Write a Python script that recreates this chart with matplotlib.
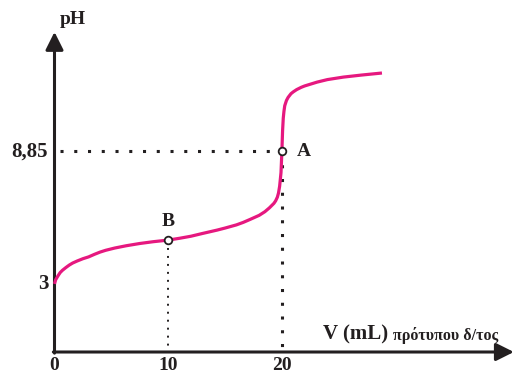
import matplotlib
matplotlib.use("Agg")
import matplotlib.pyplot as plt

# titration curve
volume = [0, 0.1, 0.3, 0.5, 0.7, 1.0, 1.3, 1.6, 2, 2.5, 3, 3.5, 4, 4.5,
          5.3, 6.3, 7.5, 8.7, 10, 11, 12, 13, 14.3, 15, 16, 16.6, 17.2,
          17.6, 18, 18.5, 18.9, 19.1, 19.3, 19.45, 19.6, 19.7, 19.8, 19.92,
          20, 20.03, 20.06, 20.12, 20.18, 20.25, 20.4, 20.55, 20.8, 21.0,
          21.3, 21.7, 22, 23.1, 24, 25.4, 27, 28.8]
ph = [3.0, 3.18, 3.35, 3.5, 3.6, 3.72, 3.83, 3.92, 4.01, 4.11, 4.19, 4.3,
      4.4, 4.48, 4.58, 4.68, 4.78, 4.86, 4.93, 5.01, 5.1, 5.22, 5.37, 5.46,
      5.6, 5.71, 5.84, 5.93, 6.02, 6.18, 6.35, 6.45, 6.55, 6.66, 6.82,
      7.0, 7.3, 7.9, 8.85, 9.3, 9.75, 10.3, 10.6, 10.85, 11.08, 11.22,
      11.38, 11.46, 11.56, 11.66, 11.72, 11.89, 12.0, 12.11, 12.2, 12.29]

point_a = (20, 8.85)
point_b = (10, 4.93)
x_ticks = [0, 10, 20]
x_tick_labels = ["0", "10", "20"]
y_ticks = [3, 8.85]
y_tick_labels = ["3", "8,85"]

pink = "#E6187F"
font = "Liberation Serif"

fig = plt.figure(figsize=(5.15, 3.76), dpi=100)
ax = fig.add_axes([0, 0, 1, 1])
ax.set_xlim(-54.5 / 11.37, (515 - 54.5) / 11.37)
ax.set_ylim(-(376 - 352) / 22.7, 352 / 22.7)
ax.axis("off")

# axes with arrows
arrow = dict(arrowstyle="-|>,head_length=0.9,head_width=0.45", color="#231f20",
             lw=2.2, mutation_scale=12, shrinkA=0, shrinkB=0)
ax.annotate("", xy=(40.4, 0), xytext=(-0.1, 0), arrowprops=arrow)
ax.annotate("", xy=(0, 14.1), xytext=(0, -0.05), arrowprops=arrow)

# dotted guide lines
ax.plot([0.5, point_a[0]], [point_a[1], point_a[1]], color="#231f20",
        lw=2.2, ls=(0, (1, 3.5)), dash_capstyle="butt", zorder=2)
ax.plot([point_a[0], point_a[0]], [point_a[1], 0], color="#231f20",
        lw=2.2, ls=(0, (1, 3.5)), dash_capstyle="butt", zorder=2)
ax.plot([point_b[0], point_b[0]], [point_b[1], 0], color="#231f20",
        lw=1.4, ls=(0, (1, 3.1)), dash_capstyle="butt", zorder=2)

ax.plot(volume, ph, color=pink, lw=2.3, solid_capstyle="butt",
        solid_joinstyle="round", zorder=3)

for p in (point_a, point_b):
    ax.plot(*p, marker="o", ms=5.5, mfc="white", mec="#231f20", mew=1.3,
            zorder=4)

txt = dict(family=font, weight="bold", color="#231f20")
ax.text(point_a[0] + 1.3, point_a[1], "A", fontsize=14, ha="left",
        va="center", **txt)
ax.text(point_b[0], point_b[1] + 0.45, "B", fontsize=14, ha="center",
        va="bottom", **txt)

for x, lab in zip(x_ticks, x_tick_labels):
    ax.text(x, -0.2, lab, fontsize=14, ha="center", va="top", **txt)
for y, lab in zip(y_ticks, y_tick_labels):
    ax.text(-0.55, y, lab, fontsize=15, ha="right", va="center", **txt)

ax.text(0.5, 14.65, "pH", fontsize=14, ha="left", va="center", **txt)
ax.text(23.6, 0.55, "V (mL)", fontsize=15, ha="left", va="baseline", **txt)
ax.text(29.8, 0.55, "πρότυπου δ/τος", fontsize=11.5, ha="left",
        va="baseline", **txt)

fig.savefig("out.png", dpi=100)
